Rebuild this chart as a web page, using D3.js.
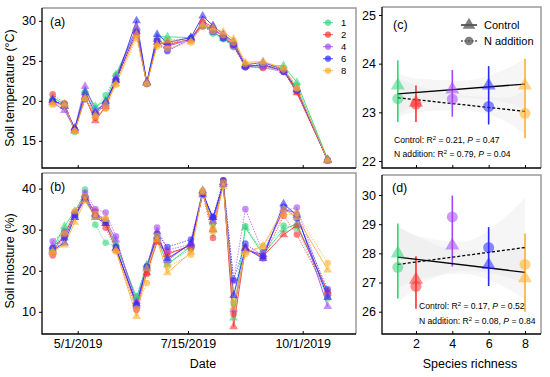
<!DOCTYPE html>
<html>
<head>
<meta charset="utf-8">
<script src="https://cdn.jsdelivr.net/npm/d3@7"></script>
<style>
  body { margin: 0; background: #fff; }
  svg { font-family: "Liberation Sans", Arial, sans-serif; }
</style>
</head>
<body>
<svg id="chart" width="550" height="377"></svg>
<script>
// sampling dates
const dates = ["2019-04-14", "2019-04-22", "2019-04-29", "2019-05-06", "2019-05-13", "2019-05-20", "2019-05-27",
  "2019-06-10", "2019-06-17", "2019-06-24", "2019-07-01", "2019-07-17", "2019-07-25", "2019-08-01",
  "2019-08-08", "2019-08-15", "2019-08-23", "2019-09-04", "2019-09-18", "2019-09-27", "2019-10-18"];

const richness = [1, 2, 4, 6, 8];
const colors = ["#2fd67a", "#ff2f2f", "#a646f5", "#2a2aff", "#ffae2a"];

// soil temperature, control (triangles) and N addition (circles)
const tempC1 = [20.4, 19.6, 16.2, 21.3, 19.3, 20.0, 23.3, 29.0, 22.2, 28.0, 28.0, 27.9, 29.6, 28.6, 27.8, 26.9, 24.4, 24.3, 24.4, 22.3, 12.7];
const tempN1 = [20.2, 19.5, 16.1, 21.0, 19.0, 20.7, 23.2, 28.6, 22.1, 27.4, 27.6, 27.8, 29.5, 28.4, 27.7, 26.7, 24.3, 24.2, 24.0, 21.9, 12.6];
const tempC2 = [20.0, 19.4, 16.3, 20.5, 17.5, 19.3, 22.6, 28.7, 22.2, 27.3, 27.0, 27.7, 29.9, 29.2, 28.0, 27.0, 24.4, 24.4, 23.8, 21.0, 12.6];
const tempN2 = [20.8, 19.7, 16.4, 20.3, 17.9, 19.1, 22.4, 28.3, 22.2, 27.5, 27.2, 27.6, 29.8, 28.9, 28.1, 26.9, 24.3, 24.1, 23.7, 21.1, 12.6];
const tempC4 = [19.8, 18.8, 16.5, 21.8, 18.8, 19.6, 22.9, 29.2, 22.3, 27.7, 26.8, 27.7, 29.6, 28.8, 28.2, 27.2, 24.3, 24.5, 23.8, 21.5, 12.5];
const tempN4 = [19.9, 19.6, 16.3, 20.4, 18.5, 19.4, 22.7, 28.5, 22.2, 27.1, 26.4, 27.6, 29.4, 28.7, 27.9, 26.8, 24.2, 24.2, 23.6, 21.4, 12.5];
const tempC6 = [20.1, 19.3, 16.6, 21.0, 18.5, 19.9, 22.5, 30.0, 22.3, 28.3, 27.3, 27.9, 30.6, 29.4, 28.3, 27.4, 24.5, 24.8, 23.9, 21.4, 12.6];
const tempN6 = [20.0, 19.5, 16.4, 20.2, 18.3, 19.7, 22.6, 28.6, 22.1, 27.5, 26.2, 27.8, 29.3, 28.6, 27.8, 27.0, 24.2, 24.6, 23.6, 21.3, 12.5];
const tempC8 = [19.6, 19.6, 16.2, 20.3, 18.2, 19.6, 22.1, 28.3, 22.2, 27.0, 27.5, 27.4, 29.5, 29.1, 28.6, 27.7, 24.8, 24.9, 24.1, 21.6, 12.6];
const tempN8 = [19.5, 19.4, 16.2, 20.2, 18.0, 19.0, 22.0, 27.8, 22.1, 26.8, 26.5, 27.3, 29.3, 28.7, 28.2, 27.3, 24.6, 24.7, 23.9, 21.5, 12.5];

// soil moisture
const moistC1 = [25.5, 30.8, 34.5, 38.5, 33.5, 32.0, 26.5, 13.5, 21.5, 28.0, 21.5, 26.0, 39.5, 30.0, 41.5, 8.5, 30.5, 24.0, 30.0, 31.5, 14.5];
const moistN1 = [25.0, 29.8, 34.0, 39.8, 31.2, 26.8, 26.0, 13.7, 21.0, 27.5, 22.0, 25.2, 39.3, 31.5, 41.8, 12.0, 30.8, 24.5, 31.0, 30.5, 13.3];
const moistC2 = [24.5, 29.0, 33.5, 38.0, 34.0, 31.5, 25.5, 11.5, 19.5, 27.0, 24.0, 26.2, 39.0, 30.0, 41.5, 6.4, 25.5, 23.5, 28.8, 31.0, 15.0];
const moistN2 = [23.7, 28.5, 34.2, 37.5, 34.5, 30.5, 25.0, 10.5, 19.3, 27.5, 24.5, 25.5, 38.8, 28.0, 42.0, 9.5, 25.5, 23.0, 33.4, 28.8, 14.5];
const moistC4 = [26.0, 28.0, 33.0, 38.5, 33.8, 32.5, 27.5, 12.5, 21.0, 29.5, 22.5, 26.8, 39.5, 32.0, 41.5, 10.5, 25.0, 24.0, 35.0, 34.0, 11.3];
const moistN4 = [27.2, 29.5, 33.5, 39.0, 35.0, 34.2, 28.4, 11.0, 20.5, 30.5, 25.0, 26.5, 39.0, 33.0, 41.0, 17.5, 35.0, 24.5, 34.5, 35.4, 14.0];
const moistC6 = [25.0, 26.8, 33.0, 37.5, 33.0, 31.5, 25.5, 12.0, 20.5, 28.5, 23.0, 26.5, 38.5, 33.0, 41.0, 14.0, 25.5, 23.0, 36.3, 33.5, 13.5];
const moistN6 = [25.5, 28.0, 33.5, 38.0, 33.5, 32.0, 25.8, 11.8, 21.0, 29.0, 25.8, 27.6, 38.8, 33.0, 42.0, 17.8, 26.6, 23.6, 35.5, 32.8, 15.5];
const moistC8 = [24.8, 26.3, 31.8, 37.0, 33.0, 32.5, 25.0, 8.9, 20.5, 27.5, 19.5, 24.5, 39.0, 30.5, 40.5, 11.0, 24.5, 26.0, 35.0, 33.0, 20.2];
const moistN8 = [24.5, 29.0, 34.5, 38.2, 33.8, 32.8, 24.7, 10.8, 17.0, 28.5, 21.0, 23.9, 39.5, 29.5, 41.5, 12.5, 24.0, 26.1, 33.5, 34.0, 21.9];

// seasonal means vs species richness
const tMeanCtrl = [23.55, 23.2, 23.47, 23.55, 23.55];
const tMeanN = [23.28, 23.17, 23.27, 23.12, 22.98];
const tErrLo = [22.8, 22.8, 22.91, 22.75, 22.47];
const tErrHi = [24.07, 23.55, 23.87, 23.95, 24.1];
const tFitCtrl = [23.38, 23.58];   // at richness 1 and 8
const tFitN = [23.3, 23.02];
const tBandX = [1, 2, 4.5, 7, 8];
const tBandCtrlLo = [22.95, 23.15, 23.3, 23.2, 23.05];
const tBandCtrlHi = [23.8, 23.7, 23.65, 23.9, 24.1];
const tBandNLo = [22.9, 23.0, 23.05, 22.8, 22.55];
const tBandNHi = [23.7, 23.55, 23.35, 23.3, 23.45];

const mMeanCtrl = [28.0, 27.1, 28.27, 27.6, 27.15];
const mMeanN = [27.52, 26.87, 29.25, 28.2, 27.62];
const mErrLo = [26.45, 26.1, 27.55, 26.88, 26.0];
const mErrHi = [29.02, 27.9, 29.98, 28.9, 28.68];
const mFitCtrl = [27.87, 27.35];
const mFitN = [27.62, 28.2];
const mBandX = [1, 2, 4.5, 7, 8];
const mBandCtrlLo = [26.8, 27.1, 27.3, 26.8, 26.4];
const mBandCtrlHi = [28.95, 28.6, 28.1, 28.1, 28.3];
const mBandNLo = [26.3, 26.8, 27.4, 27.2, 26.9];
const mBandNHi = [28.9, 28.6, 28.4, 29.3, 29.9];

const parseDate = d3.timeParse("%Y-%m-%d");
const dateVals = dates.map(parseDate);
const tempCtrl = [tempC1, tempC2, tempC4, tempC6, tempC8];
const tempN = [tempN1, tempN2, tempN4, tempN6, tempN8];
const moistCtrl = [moistC1, moistC2, moistC4, moistC6, moistC8];
const moistN = [moistN1, moistN2, moistN4, moistN6, moistN8];

const svg = d3.select("#chart");
const FONT_TICK = 12.5;

// panels
const pA = { x0: 42, x1: 356, y0: 8, y1: 168 };
const pB = { x0: 42, x1: 356, y0: 173, y1: 334 };
const pC = { x0: 382, x1: 541, y0: 7, y1: 168 };
const pD = { x0: 382, x1: 541, y0: 175, y1: 334 };

const x = d3.scaleTime().domain([parseDate("2019-05-01"), parseDate("2019-10-01")]).range([77.7, 302.7]);
const yA = d3.scaleLinear().domain([11.6, 31.6]).range([pA.y1, pA.y0]);
const yB = d3.scaleLinear().domain([4.6, 43.8]).range([pB.y1, pB.y0]);
const xR = d3.scaleLinear().domain([1, 8]).range([397.8, 525]);
const yC = d3.scaleLinear().domain([22, 25]).range([161, 15]);
const yD = d3.scaleLinear().domain([26, 30]).range([311.7, 195]);

const frame = (p) => {
    svg.append("path")
        .attr("d", `M${p.x0},${p.y0}H${p.x1}V${p.y1}`)
        .attr("fill", "none").attr("stroke", "#9a9a9a").attr("stroke-width", 1.5);
    svg.append("path")
        .attr("d", `M${p.x0},${p.y0}V${p.y1}H${p.x1}`)
        .attr("fill", "none").attr("stroke", "#000").attr("stroke-width", 1.3);
};

const leftAxis = (p, y, ticks) => {
    const g = svg.append("g").attr("transform", `translate(${p.x0},0)`)
        .call(d3.axisLeft(y).tickValues(ticks).tickSize(3).tickPadding(3).tickFormat(d3.format("d")));
    g.select(".domain").remove();
    g.selectAll("text").style("font-size", FONT_TICK + "px").attr("fill", "#000");
};

const bottomAxis = (p, scale, ticks, fmt) => {
    const g = svg.append("g").attr("transform", `translate(0,${p.y1})`)
        .call(d3.axisBottom(scale).tickValues(ticks).tickSizeInner(-3).tickSizeOuter(0).tickPadding(5).tickFormat(fmt));
    g.select(".domain").remove();
    g.selectAll("text").style("font-size", FONT_TICK + "px").attr("fill", "#000");
};

const tri = d3.symbol().type(d3.symbolTriangle);
const circ = d3.symbol().type(d3.symbolCircle);

const drawSeries = (yScale, ctrl, nAdd) => {
    const line = (arr) => d3.line().x((d, i) => x(dateVals[i])).y((d) => yScale(d))(arr);
    richness.forEach((r, k) => {
        svg.append("path").attr("d", line(nAdd[k]))
            .attr("fill", "none").attr("stroke", colors[k]).attr("stroke-width", 0.9)
            .attr("stroke-dasharray", "1.5,1.2").attr("opacity", 0.75);
        svg.append("path").attr("d", line(ctrl[k]))
            .attr("fill", "none").attr("stroke", colors[k]).attr("stroke-width", 1)
            .attr("opacity", 0.85);
    });
    richness.forEach((r, k) => {
        svg.append("g").selectAll("path")
            .data(nAdd[k]).join("path")
            .attr("transform", (d, i) => `translate(${x(dateVals[i])},${yScale(d)})`)
            .attr("d", circ.size(34)())
            .attr("fill", colors[k]).attr("fill-opacity", 0.6);
        svg.append("g").selectAll("path")
            .data(ctrl[k]).join("path")
            .attr("transform", (d, i) => `translate(${x(dateVals[i])},${yScale(d)})`)
            .attr("d", tri.size(34)())
            .attr("fill", colors[k]).attr("fill-opacity", 0.6);
    });
};

const drawRichness = (yScale, meanC, meanN, lo, hi, fitC, fitN, bandX, bCLo, bCHi, bNLo, bNHi) => {
    const area = d3.area().x((d) => xR(d[0])).y0((d) => yScale(d[1])).y1((d) => yScale(d[2])).curve(d3.curveMonotoneX);
    svg.append("path").attr("d", area(bandX.map((v, i) => [v, bCLo[i], bCHi[i]])))
        .attr("fill", "#e0e0e0").attr("fill-opacity", 0.3);
    svg.append("path").attr("d", area(bandX.map((v, i) => [v, bNLo[i], bNHi[i]])))
        .attr("fill", "#e0e0e0").attr("fill-opacity", 0.3);

    richness.forEach((r, k) => {
        svg.append("line")
            .attr("x1", xR(r)).attr("x2", xR(r))
            .attr("y1", yScale(lo[k])).attr("y2", yScale(hi[k]))
            .attr("stroke", colors[k]).attr("stroke-width", 1.6);
    });
    svg.append("line")
        .attr("x1", xR(1)).attr("x2", xR(8)).attr("y1", yScale(fitC[0])).attr("y2", yScale(fitC[1]))
        .attr("stroke", "#000").attr("stroke-width", 1.3);
    svg.append("line")
        .attr("x1", xR(1)).attr("x2", xR(8)).attr("y1", yScale(fitN[0])).attr("y2", yScale(fitN[1]))
        .attr("stroke", "#000").attr("stroke-width", 1.3).attr("stroke-dasharray", "3,2");
    richness.forEach((r, k) => {
        svg.append("path")
            .attr("transform", `translate(${xR(r)},${yScale(meanN[k])})`)
            .attr("d", circ.size(95)())
            .attr("fill", colors[k]).attr("fill-opacity", 0.55);
        svg.append("path")
            .attr("transform", `translate(${xR(r)},${yScale(meanC[k])})`)
            .attr("d", tri.size(85)())
            .attr("fill", colors[k]).attr("fill-opacity", 0.55);
    });
};

// (a) soil temperature
drawSeries(yA, tempCtrl, tempN);
frame(pA);
leftAxis(pA, yA, [15, 20, 25, 30]);
const dateTicks = ["2019-05-01", "2019-07-15", "2019-10-01"].map(parseDate);
bottomAxis(pA, x, dateTicks, () => "");

// (b) soil moisture
drawSeries(yB, moistCtrl, moistN);
frame(pB);
leftAxis(pB, yB, [10, 20, 30, 40]);
bottomAxis(pB, x, dateTicks, d3.timeFormat("%-m/%-d/%Y"));

// (c) and (d)
drawRichness(yC, tMeanCtrl, tMeanN, tErrLo, tErrHi, tFitCtrl, tFitN, tBandX, tBandCtrlLo, tBandCtrlHi, tBandNLo, tBandNHi);
frame(pC);
leftAxis(pC, yC, [22, 23, 24, 25]);
bottomAxis(pC, xR, [2, 4, 6, 8], () => "");

drawRichness(yD, mMeanCtrl, mMeanN, mErrLo, mErrHi, mFitCtrl, mFitN, mBandX, mBandCtrlLo, mBandCtrlHi, mBandNLo, mBandNHi);
frame(pD);
leftAxis(pD, yD, [26, 27, 28, 29, 30]);
bottomAxis(pD, xR, [2, 4, 6, 8], d3.format("d"));

// panel letters
[["(a)", 50, 26], ["(b)", 50, 191], ["(c)", 393, 29], ["(d)", 392, 192]].forEach(([t, px, py]) => {
    svg.append("text").attr("x", px).attr("y", py).style("font-size", "12.5px").text(t);
});

// axis titles
svg.append("text").attr("transform", "translate(14,88) rotate(-90)")
    .attr("text-anchor", "middle").style("font-size", "12.5px").text("Soil temperature (°C)");
svg.append("text").attr("transform", "translate(14,261) rotate(-90)")
    .attr("text-anchor", "middle").style("font-size", "12.5px").text("Soil miosture (%)");
svg.append("text").attr("x", 203).attr("y", 368).attr("text-anchor", "middle")
    .style("font-size", "12.5px").text("Date");
svg.append("text").attr("x", 470).attr("y", 368).attr("text-anchor", "middle")
    .style("font-size", "12.5px").text("Species richness");

// legend for richness levels
const legA = svg.append("g");
richness.forEach((r, k) => {
    const ly = 22.7 + k * 12;
    legA.append("line").attr("x1", 323).attr("x2", 333).attr("y1", ly).attr("y2", ly)
        .attr("stroke", colors[k]).attr("stroke-width", 1).attr("opacity", 0.8);
    legA.append("path").attr("transform", `translate(328,${ly})`).attr("d", circ.size(30)())
        .attr("fill", colors[k]).attr("fill-opacity", 0.7);
    legA.append("text").attr("x", 341).attr("y", ly + 3.5).style("font-size", "9.5px").text(r);
});

// legend for treatments
const legC = svg.append("g");
legC.append("line").attr("x1", 461).attr("x2", 477).attr("y1", 25).attr("y2", 25).attr("stroke", "#000").attr("stroke-width", 1.2);
legC.append("path").attr("transform", "translate(469,25)").attr("d", tri.size(70)()).attr("fill", "#555").attr("fill-opacity", 0.75);
legC.append("line").attr("x1", 461).attr("x2", 477).attr("y1", 41).attr("y2", 41).attr("stroke", "#000")
    .attr("stroke-width", 1.2).attr("stroke-dasharray", "2,1.5");
legC.append("path").attr("transform", "translate(469,41)").attr("d", circ.size(60)()).attr("fill", "#555").attr("fill-opacity", 0.75);
legC.append("text").attr("x", 484).attr("y", 29).style("font-size", "11px").text("Control");
legC.append("text").attr("x", 484).attr("y", 45).style("font-size", "11px").text("N addition");

// fit statistics
const stat = (px, py, label, r2, p) => {
    const t = svg.append("text").attr("x", px).attr("y", py).style("font-size", "8.6px");
    t.append("tspan").text(`${label}: R`);
    t.append("tspan").attr("dy", -3).style("font-size", "6px").text("2");
    t.append("tspan").attr("dy", 3).text(` = ${r2}, `);
    t.append("tspan").style("font-style", "italic").text("P");
    t.append("tspan").text(` = ${p}`);
};
stat(394, 143, "Control", "0.21", "0.47");
stat(394, 157, "N addition", "0.79", "0.04");
stat(419, 309, "Control", "0.17", "0.52");
stat(419, 324, "N addition", "0.08", "0.84");
</script>
</body>
</html>
